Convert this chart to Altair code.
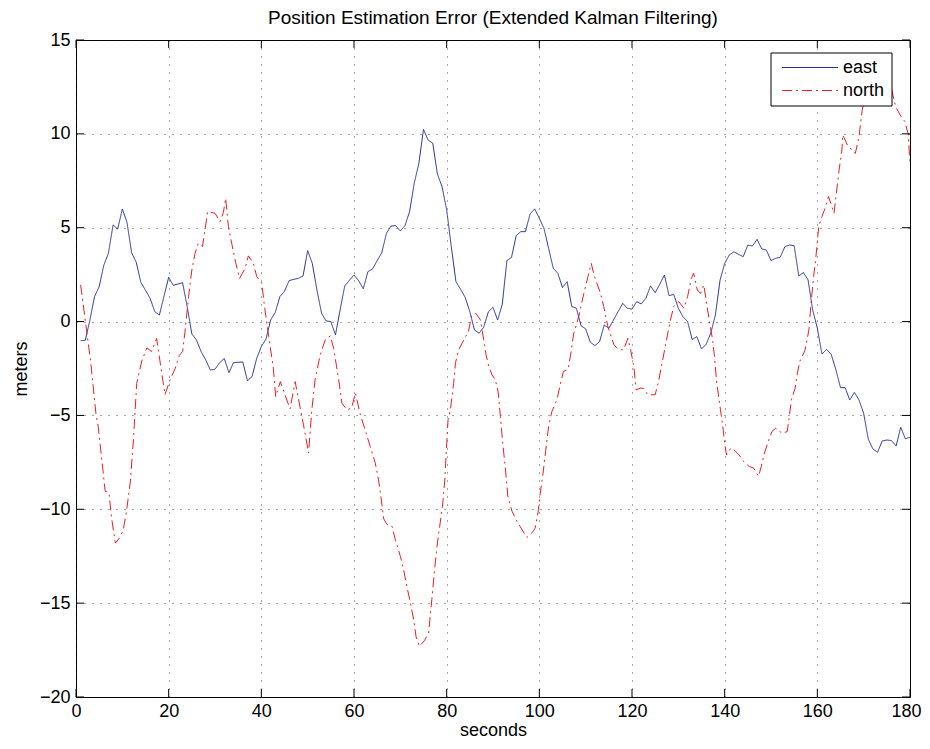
import altair as alt
import pandas as pd

# ---------------- data ----------------
east_time = [1, 2, 3, 4, 5, 6, 7, 8, 9, 10, 11, 12, 13, 14, 16, 17, 18, 20, 21, 23,
             24, 25, 26, 27, 28, 29, 30, 31, 32, 33, 34, 36, 37, 38, 39, 40,
             41, 42, 43, 44, 45, 46, 47, 48, 49, 50, 51, 52, 53, 54, 55, 56, 57, 58, 59, 60,
             61, 62, 63, 64, 65, 66, 67, 68, 69, 70, 71, 72, 73, 74, 75, 76, 77, 78, 79, 80,
             81, 82, 83, 84, 85, 86, 87, 88, 89, 90, 91, 92, 93, 94, 95, 96, 97, 98, 99, 100,
             101, 102, 103, 104, 105, 106, 107, 108, 109, 110, 111, 112, 113, 114, 115, 116, 117, 118, 119, 120,
             121, 122, 123, 124, 125, 126, 127, 128, 129, 130, 131, 132, 133, 134, 135, 136, 137, 138, 139, 140,
             141, 142, 143, 144, 145, 146, 147, 148, 149, 150, 151, 152, 153, 154, 155, 156, 157, 158, 159, 160,
             161, 162, 163, 164, 165, 166, 167, 168, 169, 170, 171, 172, 173, 174, 175, 176, 177, 178, 179, 180]
east_value = [-1.02, -1.0, 0.08, 1.33, 1.86, 3.0, 3.64, 5.15, 4.93, 6.0, 5.29, 3.67, 3.16, 2.09, 1.24, 0.53, 0.35, 2.36, 1.93, 2.07,
              0.8, -0.66, -0.98, -1.6, -2.05, -2.58, -2.54, -2.19, -1.97, -2.72, -2.19, -2.15, -3.15, -2.93, -1.96, -1.33,
              -0.94, 0.08, 0.48, 1.33, 1.62, 2.18, 2.25, 2.3, 2.43, 3.78, 3.1, 1.68, 0.44, 0.03, 0.0, -0.71, 0.62, 1.9, 2.2, 2.48,
              2.18, 1.75, 2.66, 2.8, 3.25, 3.67, 4.7, 5.09, 5.11, 4.83, 5.11, 5.86, 7.37, 8.43, 10.24, 9.67, 9.5, 7.86, 7.19, 5.95,
              3.99, 2.13, 1.72, 1.29, 0.53, -0.45, -0.62, -0.3, 0.52, 0.76, 0.08, 0.92, 3.25, 3.42, 4.58, 4.79, 4.79, 5.73, 6.0, 5.5,
              4.97, 3.9, 2.84, 2.57, 1.81, 2.13, 0.8, 0.71, -0.22, -0.39, -1.1, -1.28, -1.07, -0.18, -0.36, 0.08, 0.53, 0.97, 0.71, 0.66,
              1.06, 0.94, 1.24, 1.9, 1.54, 1.99, 2.48, 1.38, 1.45, 0.71, 0.26, 0.0, -0.96, -0.8, -1.46, -1.21, -0.62, 0.35, 2.2, 3.1,
              3.55, 3.72, 3.58, 3.46, 4.07, 4.03, 4.38, 3.87, 3.81, 3.25, 3.37, 3.43, 3.99, 4.08, 4.04, 2.43, 2.61, 2.22, 0.62, -0.36,
              -1.73, -1.48, -1.75, -2.56, -3.52, -3.52, -4.18, -3.77, -4.18, -4.89, -6.27, -6.79, -6.96, -6.36, -6.31, -6.34, -6.63, -5.63, -6.25, -6.16]

north_time = [1.0, 3.2, 3.8, 4.3, 4.8, 5.5, 6.3, 7.1, 7.7, 8.5, 9.5, 10.2, 10.9, 11.7, 12.4, 13.1, 14.2, 15.3, 16.3, 17.4,
              19.2, 20.3, 21.4, 22.3, 23.0, 23.5, 24.3, 25.0, 25.7, 26.4, 27.3, 27.9, 28.4, 30.0, 31.1, 31.8, 32.3, 32.9, 33.6, 34.5,
              35.3, 36.5, 37.2, 38.3, 39.0, 40.1, 40.6, 41.6, 42.6, 43.1, 44.1, 45.1, 46.2, 47.3, 48.0, 49.1, 50.2, 50.9, 51.6, 52.7,
              53.8, 54.9, 55.6, 56.7, 57.4, 58.5, 59.5, 60.3, 61.3, 62.4, 63.5, 64.6, 65.3, 65.9, 66.4, 67.1, 68.2, 68.9, 70.0, 70.7,
              71.4, 72.1, 72.9, 73.4, 74.1, 75.2, 76.1, 76.8, 77.4, 77.9, 78.5, 79.1, 79.6, 79.9, 80.3, 80.8, 81.5, 81.9, 82.6, 83.7,
              84.7, 85.4, 86.3, 87.3, 88.0, 88.5, 89.1, 89.8, 90.5, 91.1, 91.6, 92.1, 92.7, 93.2, 94.1, 95.2, 96.3, 97.3, 98.6, 99.1,
              99.7, 100.2, 100.8, 101.4, 102.0, 102.7, 103.8, 104.5, 105.2, 106.2, 106.7, 107.4, 108.5, 109.6, 110.5, 111.2, 111.9, 113.2, 113.9, 114.8,
              116.1, 117.1, 118.2, 119.1, 119.7, 120.4, 120.9, 121.8, 122.5, 123.4, 124.3, 125.0, 125.8, 126.5, 127.1, 127.8, 128.3, 129.0, 130.1, 131.2,
              132.0, 132.8, 133.3, 134.1, 134.8, 135.5, 136.2, 136.9, 137.4, 137.8, 138.3, 139.1, 139.6, 140.0, 140.4, 141.3, 142.3, 143.1, 144.1, 145.3,
              146.3, 147.3, 147.9, 148.6, 149.4, 150.2, 151.0, 152.4, 153.5, 153.9, 154.4, 155.2, 155.7, 156.2, 157.3, 157.8, 158.2, 158.7, 159.2, 159.7,
              160.3, 161.0, 161.8, 162.4, 162.9, 163.6, 164.1, 164.7, 165.3, 165.5, 166.5, 168.2, 169.0, 169.3, 169.7, 170.4, 171.8, 173.3, 174.8, 176.0,
              176.9, 178.0, 178.9, 179.6, 180.0]
north_value = [1.95, -2.2, -3.7, -4.9, -5.6, -7.2, -9.05, -9.1, -10.5, -11.8, -11.5, -11.1, -10.1, -8.6, -6.3, -3.3, -2.1, -1.4, -1.6, -0.9,
               -3.9, -3.1, -2.5, -1.8, -1.6, -0.6, 1.33, 2.75, 3.64, 4.17, 4.0, 4.97, 5.86, 5.77, 5.32, 5.8, 6.57, 5.06, 4.17, 3.1,
               2.3, 2.84, 3.5, 3.1, 2.4, 2.04, 0.97, -0.8, -2.5, -4.0, -3.2, -3.9, -4.65, -3.2, -4.1, -5.5, -7.0, -4.7, -3.1, -1.77,
               -0.97, -0.76, -1.42, -3.1, -4.35, -4.7, -4.6, -3.8, -4.9, -5.77, -6.66, -7.55, -8.43, -9.5, -10.5, -10.8, -10.9, -11.6, -12.5, -13.2,
               -14.1, -14.9, -15.9, -16.8, -17.3, -17.0, -16.6, -14.8, -13.2, -12.0, -10.9, -9.85, -8.43, -7.0, -5.23, -4.7, -3.3, -2.2, -1.5, -0.97,
               -0.53, 0.35, 0.44, 0.08, -0.97, -1.77, -2.4, -2.84, -3.1, -3.73, -5.06, -6.48, -7.9, -9.3, -10.1, -10.65, -11.1, -11.5, -11.2, -11.0,
               -10.2, -9.14, -8.08, -6.83, -5.59, -4.8, -4.17, -3.37, -2.66, -2.54, -1.86, -0.66, 0.26, 1.5, 2.4, 3.1, 2.4, 1.5, 0.8, -0.27,
               -1.24, -1.5, -1.5, -0.89, -1.5, -2.4, -3.64, -3.55, -3.55, -3.9, -3.9, -3.9, -3.1, -2.2, -1.42, -0.53, 0.08, 0.8, 1.06, 0.71,
               1.33, 2.3, 2.57, 1.68, 1.5, 1.95, 0.8, -0.27, -0.97, -1.86, -3.3, -4.7, -5.6, -6.48, -7.1, -6.75, -6.9, -7.1, -7.46, -7.72,
               -7.81, -8.25, -7.72, -7.0, -6.4, -5.86, -5.68, -5.95, -5.86, -5.15, -4.17, -3.55, -2.75, -2.13, -1.55, -0.97, -0.4, 1.15, 2.4, 3.46,
               5.06, 5.6, 6.12, 6.66, 6.3, 5.77, 6.84, 8.08, 9.14, 9.94, 9.4, 8.96, 9.85, 10.5, 11.3, 11.98, 12.6, 13.0, 12.8, 12.4,
               11.45, 10.95, 10.65, 10.0, 8.43]

series_names = ["east", "north"]
series_colors = ["#28309a", "#ee1c25"]
series_dashes = [[1, 0], [10, 4, 2, 4]]
x_ticks = [0, 20, 40, 60, 80, 100, 120, 140, 160, 180]
y_ticks = [-20, -15, -10, -5, 0, 5, 10, 15]

# ---------------- build ----------------
df = pd.concat([
    pd.DataFrame({"time": east_time, "value": east_value, "series": "east"}),
    pd.DataFrame({"time": north_time, "value": north_value, "series": "north"}),
], ignore_index=True)

W, H = 834, 657
FONT = "Liberation Sans"
FS = 18
TL = 8  # inward tick length

xscale = alt.Scale(domain=[0, 180], nice=False, zero=False)
yscale = alt.Scale(domain=[-20, 15], nice=False, zero=False)
xaxis = alt.Axis(values=x_ticks, title="seconds", format="d", grid=True,
                 labelPadding=5, titlePadding=1, labelFlush=False,
                 labelOffset={"condition": {"test": "datum.value == 180", "value": -4}, "value": 0})
yaxis = alt.Axis(values=y_ticks, title="meters", format="d", grid=True,
                 labelPadding=6, titlePadding=9)

lines = alt.Chart(df).mark_line(strokeWidth=1, clip=True).encode(
    x=alt.X("time:Q", scale=xscale, axis=xaxis),
    y=alt.Y("value:Q", scale=yscale, axis=yaxis),
    color=alt.Color("series:N", scale=alt.Scale(domain=series_names, range=series_colors), legend=None),
    strokeDash=alt.StrokeDash("series:N", scale=alt.Scale(domain=series_names, range=series_dashes), legend=None),
)

xt = pd.DataFrame({"time": x_ticks})
yt = pd.DataFrame({"value": y_ticks})

xtick_bottom = alt.Chart(xt).mark_rule(color="black", strokeWidth=1).encode(
    x=alt.X("time:Q", scale=xscale, axis=xaxis), y=alt.value(H), y2=alt.value(H - TL))
xtick_top = alt.Chart(xt).mark_rule(color="black", strokeWidth=1).encode(
    x=alt.X("time:Q", scale=xscale, axis=xaxis), y=alt.value(0), y2=alt.value(TL))
ytick_left = alt.Chart(yt).mark_rule(color="black", strokeWidth=1).encode(
    y=alt.Y("value:Q", scale=yscale, axis=yaxis), x=alt.value(0), x2=alt.value(TL))
ytick_right = alt.Chart(yt).mark_rule(color="black", strokeWidth=1).encode(
    y=alt.Y("value:Q", scale=yscale, axis=yaxis), x=alt.value(W), x2=alt.value(W - TL))

# ---------------- legend (drawn as its own marks) ----------------
LX0, LX1, LY0, LY1 = 695, 816, 13, 66
ROWS = [27.5, 50.5]
leg_box = alt.Chart(pd.DataFrame({"k": [0]})).mark_rect(
    fill="white", stroke="black", strokeWidth=1).encode(
    x=alt.value(LX0), x2=alt.value(LX1), y=alt.value(LY0), y2=alt.value(LY1))
leg_parts = [leg_box]
for name, col, dash, ry in zip(series_names, series_colors, series_dashes, ROWS):
    one = pd.DataFrame({"series": [name]})
    leg_parts.append(alt.Chart(one).mark_rule(color=col, strokeWidth=1, strokeDash=dash).encode(
        x=alt.value(706), x2=alt.value(762), y=alt.value(ry)))
    leg_parts.append(alt.Chart(one).mark_text(
        align="left", baseline="middle", font=FONT, fontSize=FS, color="black").encode(
        text="series:N", x=alt.value(767), y=alt.value(ry)))

chart = alt.layer(lines, xtick_bottom, xtick_top, ytick_left, ytick_right, *leg_parts).properties(
    width=W, height=H,
    title=alt.Title("Position Estimation Error (Extended Kalman Filtering)",
                    font=FONT, fontSize=19, fontWeight="normal", color="black", offset=3),
    autosize=alt.AutoSizeParams(type="none"),
    padding={"left": 68, "top": 32, "right": 12, "bottom": 44},
).configure_view(
    stroke="black", strokeWidth=1
).configure_axis(
    domain=False, ticks=False,
    labelFont=FONT, labelFontSize=FS, labelColor="black",
    titleFont=FONT, titleFontSize=FS, titleFontWeight="normal", titleColor="black",
    gridColor="#222222", gridDash=[1, 7], gridWidth=1, gridOpacity=0.8,
)

chart.save("out.html", embed_options={"renderer": "svg", "actions": False})
